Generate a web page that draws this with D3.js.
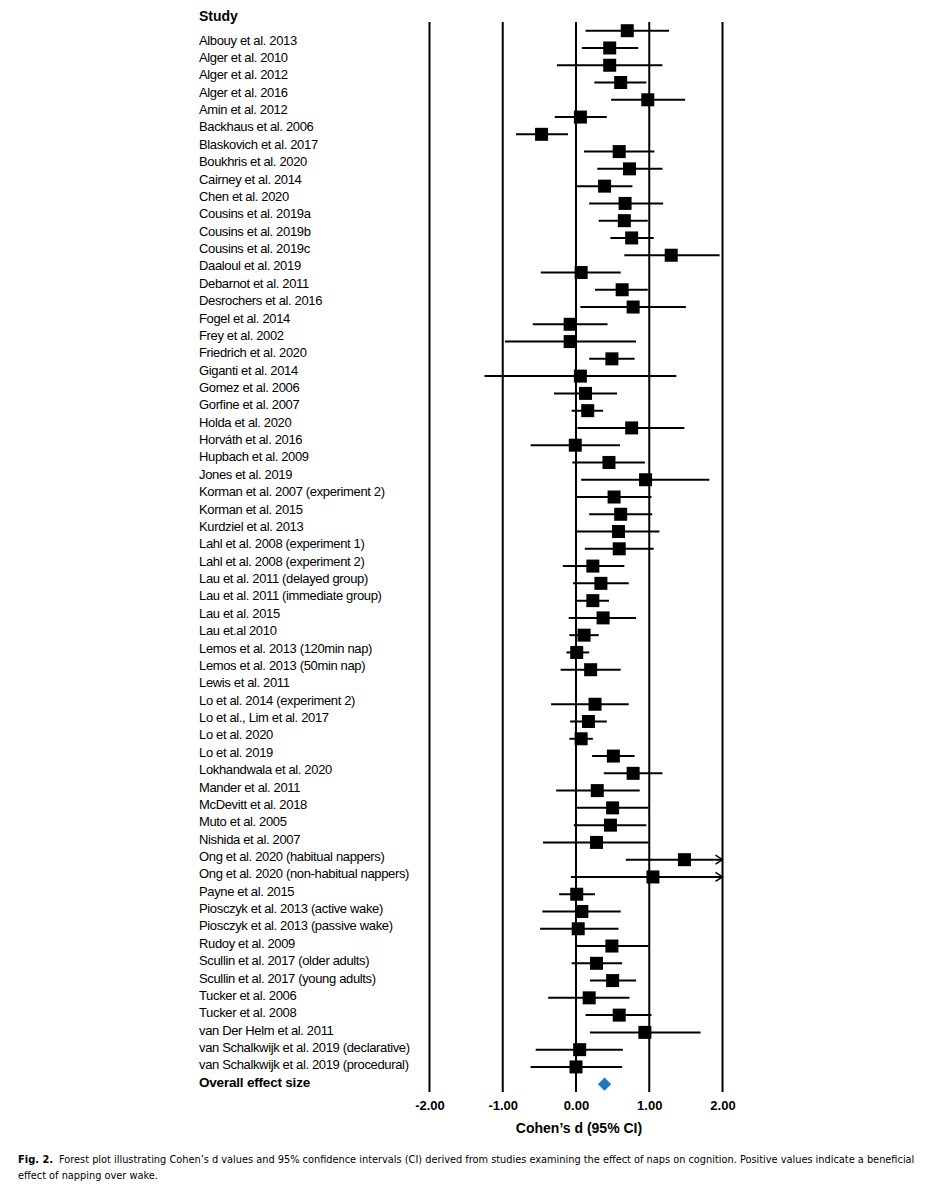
<!DOCTYPE html>
<html>
<head>
<meta charset="utf-8">
<script src="https://cdn.jsdelivr.net/npm/d3@7/dist/d3.min.js"></script>
<style>
  html, body { margin: 0; padding: 0; background: #fff; }
  svg { display: block; }
</style>
</head>
<body>
<div id="chart"></div>
<script>
// ---------------- data ----------------
const studies = [
  "Albouy et al. 2013", "Alger et al. 2010", "Alger et al. 2012", "Alger et al. 2016",
  "Amin et al. 2012", "Backhaus et al. 2006", "Blaskovich et al. 2017", "Boukhris et al. 2020",
  "Cairney et al. 2014", "Chen et al. 2020", "Cousins et al. 2019a", "Cousins et al. 2019b",
  "Cousins et al. 2019c", "Daaloul et al. 2019", "Debarnot et al. 2011", "Desrochers et al. 2016",
  "Fogel et al. 2014", "Frey et al. 2002", "Friedrich et al. 2020", "Giganti et al. 2014",
  "Gomez et al. 2006", "Gorfine et al. 2007", "Holda et al. 2020", "Horváth et al. 2016",
  "Hupbach et al. 2009", "Jones et al. 2019", "Korman et al. 2007 (experiment 2)", "Korman et al. 2015",
  "Kurdziel et al. 2013", "Lahl et al. 2008 (experiment 1)", "Lahl et al. 2008 (experiment 2)",
  "Lau et al. 2011 (delayed group)", "Lau et al. 2011 (immediate group)", "Lau et al. 2015",
  "Lau et.al 2010", "Lemos et al. 2013 (120min nap)", "Lemos et al. 2013 (50min nap)",
  "Lewis et al. 2011", "Lo et al. 2014 (experiment 2)", "Lo et al., Lim et al. 2017",
  "Lo et al. 2020", "Lo et al. 2019", "Lokhandwala et al. 2020", "Mander et al. 2011",
  "McDevitt et al. 2018", "Muto et al. 2005", "Nishida et al. 2007",
  "Ong et al. 2020 (habitual nappers)", "Ong et al. 2020 (non-habitual nappers)",
  "Payne et al. 2015", "Piosczyk et al. 2013 (active wake)", "Piosczyk et al. 2013 (passive wake)",
  "Rudoy et al. 2009", "Scullin et al. 2017 (older adults)", "Scullin et al. 2017 (young adults)",
  "Tucker et al. 2006", "Tucker et al. 2008", "van Der Helm et al. 2011",
  "van Schalkwijk et al. 2019 (declarative)", "van Schalkwijk et al. 2019 (procedural)"
];
const cohenD = [
  0.70, 0.46, 0.46, 0.61, 0.98, 0.06, -0.47, 0.59, 0.73, 0.39,
  0.67, 0.66, 0.76, 1.30, 0.07, 0.63, 0.78, -0.08, -0.08, 0.49,
  0.06, 0.13, 0.16, 0.76, -0.01, 0.45, 0.95, 0.52, 0.61, 0.58,
  0.59, 0.23, 0.34, 0.23, 0.37, 0.11, 0.01, 0.20, 0.26, 0.17,
  0.07, 0.51, 0.78, 0.29, 0.50, 0.47, 0.28, 1.48, 1.05, 0.01,
  0.08, 0.03, 0.49, 0.28, 0.50, 0.18, 0.59, 0.94, 0.05, 0.00
];
const ciLower = [
  0.13, 0.08, -0.26, 0.25, 0.48, -0.29, -0.82, 0.11, 0.29, 0.00,
  0.18, 0.31, 0.47, 0.66, -0.48, 0.26, 0.06, -0.59, -0.97, 0.18,
  -1.25, -0.30, -0.06, 0.02, -0.62, -0.05, 0.07, 0.00, 0.18, 0.00,
  0.12, -0.18, -0.04, 0.00, -0.10, -0.09, -0.13, -0.21, -0.34, -0.08,
  -0.09, 0.22, 0.38, -0.27, 0.00, -0.03, -0.45, 0.68, -0.07, -0.23,
  -0.46, -0.49, 0.00, -0.06, 0.19, -0.38, 0.13, 0.19, -0.55, -0.62
];
const ciUpper = [
  1.27, 0.85, 1.18, 0.96, 1.49, 0.42, -0.11, 1.07, 1.18, 0.77,
  1.19, 0.98, 1.06, 1.96, 0.61, 0.98, 1.50, 0.43, 0.82, 0.80,
  1.37, 0.56, 0.37, 1.48, 0.60, 0.94, 1.82, 1.03, 1.04, 1.14,
  1.06, 0.66, 0.72, 0.45, 0.82, 0.31, 0.18, 0.61, 0.72, 0.42,
  0.23, 0.80, 1.18, 0.87, 0.99, 0.96, 0.99, 2.28, 2.17, 0.26,
  0.61, 0.58, 0.99, 0.63, 0.82, 0.73, 1.03, 1.70, 0.64, 0.63
];
const overallLabel = "Overall effect size";
const overallD = 0.39;
const tickValues = [-2, -1, 0, 1, 2];
const tickLabels = ["-2.00", "-1.00", "0.00", "1.00", "2.00"];
const axisTitle = "Cohen\u2019s d (95% CI)";
const headerLabel = "Study";
// In the original panel an empty plot row sits after this study
const gapAfterStudy = 37;
const captionBold = "Fig. 2.";
const captionLine1 = "Forest plot illustrating Cohen\u2019s d values and 95% confidence intervals (CI) derived from studies examining the effect of naps on cognition. Positive values indicate a beneficial";
const captionLine2 = "effect of napping over wake.";

// ---------------- layout ----------------
const W = 943, H = 1200;
const svg = d3.select("#chart").append("svg").attr("width", W).attr("height", H)
  .style("font-family", "'Liberation Sans', Arial, sans-serif");

const x = d3.scaleLinear().domain([-2, 2]).range([429.5, 722.5]);

// rows of the plot panel (includes an empty spacer row and the overall row)
const plotRows = [];
studies.forEach((s, i) => { plotRows.push("s" + i); if (i === gapAfterStudy) plotRows.push("gap"); });
plotRows.push("overall");
const yPlot = d3.scalePoint().domain(plotRows).range([30.7, 1084.2]);

// rows of the label column
const labelRows = studies.map((s, i) => "s" + i).concat(["overall"]);
const yLabel = d3.scalePoint().domain(labelRows).range([40, 1082.2]);

const data = studies.map((s, i) => ({ key: "s" + i, name: s, d: cohenD[i], lo: ciLower[i], hi: ciUpper[i] }));

// vertical reference lines
svg.append("g").selectAll("line").data(tickValues).join("line")
  .attr("x1", d => x(d)).attr("x2", d => x(d))
  .attr("y1", 22).attr("y2", 1092)
  .attr("stroke", "#000").attr("stroke-width", 2);

// x axis labels via d3 axis
const axis = d3.axisBottom(x).tickValues(tickValues)
  .tickFormat((d, i) => tickLabels[i]).tickSize(0).tickPadding(0);
const axG = svg.append("g").attr("transform", "translate(0,1100)").call(axis);
axG.select(".domain").remove();
axG.selectAll("text").attr("font-size", 13).attr("font-weight", "bold")
  .attr("font-family", "'Liberation Sans', Arial, sans-serif").attr("fill", "#000")
  .attr("dy", "0.77em");

svg.append("text").attr("x", 579).attr("y", 1133).attr("text-anchor", "middle")
  .attr("font-size", 14).attr("font-weight", "bold").text(axisTitle);

// CI lines
const xmin = x.domain()[0], xmax = x.domain()[1];
const g = svg.append("g");
g.selectAll("line.ci").data(data).join("line").attr("class", "ci")
  .attr("x1", d => x(Math.max(d.lo, xmin))).attr("x2", d => x(Math.min(d.hi, xmax)))
  .attr("y1", d => yPlot(d.key)).attr("y2", d => yPlot(d.key))
  .attr("stroke", "#000").attr("stroke-width", 2);

// arrows for truncated intervals
g.selectAll("path.arrow").data(data.filter(d => d.hi > xmax)).join("path").attr("class", "arrow")
  .attr("d", d => { const xx = x(xmax), yy = yPlot(d.key); return `M${xx - 7},${yy - 4.5}L${xx},${yy}L${xx - 7},${yy + 4.5}`; })
  .attr("fill", "none").attr("stroke", "#000").attr("stroke-width", 1.5);

// point estimates
const sq = 13;
g.selectAll("rect.pt").data(data).join("rect").attr("class", "pt")
  .attr("x", d => x(d.d) - sq / 2).attr("y", d => yPlot(d.key) - sq / 2)
  .attr("width", sq).attr("height", sq).attr("fill", "#000");

// overall diamond
svg.append("path")
  .attr("d", d3.symbol(d3.symbolSquare, 88)())
  .attr("transform", `translate(${x(overallD)},${yPlot("overall")}) rotate(45)`)
  .attr("fill", "#1d78c0");

// labels
svg.append("text").attr("x", 199).attr("y", 21).attr("font-size", 14).attr("font-weight", "bold").text(headerLabel);
svg.append("g").selectAll("text").data(data).join("text")
  .attr("x", 199).attr("y", d => yLabel(d.key) + 4.6)
  .attr("font-size", 13).attr("letter-spacing", "-0.35px").attr("fill", "#000")
  .text(d => d.name);
svg.append("text").attr("x", 199).attr("y", yLabel("overall") + 5)
  .attr("font-size", 13.5).attr("font-weight", "bold").attr("letter-spacing", "-0.2px").text(overallLabel);

// caption: fit the font size so the first line spans the measured width
const capFont = "'Liberation Sans Narrow', 'DejaVu Sans Condensed', 'Liberation Sans', sans-serif";
const capBold = svg.append("text").attr("x", 18).attr("y", 1163).attr("font-family", capFont)
  .attr("font-size", 11).attr("font-weight", "bold").text(captionBold);
const boldW = capBold.node().getComputedTextLength();
const cap1 = svg.append("text").attr("x", 18 + boldW + 6).attr("y", 1163).attr("font-family", capFont)
  .attr("font-size", 11).text(captionLine1);
const targetW = 915 - (18 + boldW + 6);
const natW = cap1.node().getComputedTextLength();
const capSize = Math.min(12, 11 * targetW / natW);
cap1.attr("font-size", capSize);
svg.append("text").attr("x", 18).attr("y", 1179).attr("font-family", capFont)
  .attr("font-size", capSize).text(captionLine2);
</script>
</body>
</html>
